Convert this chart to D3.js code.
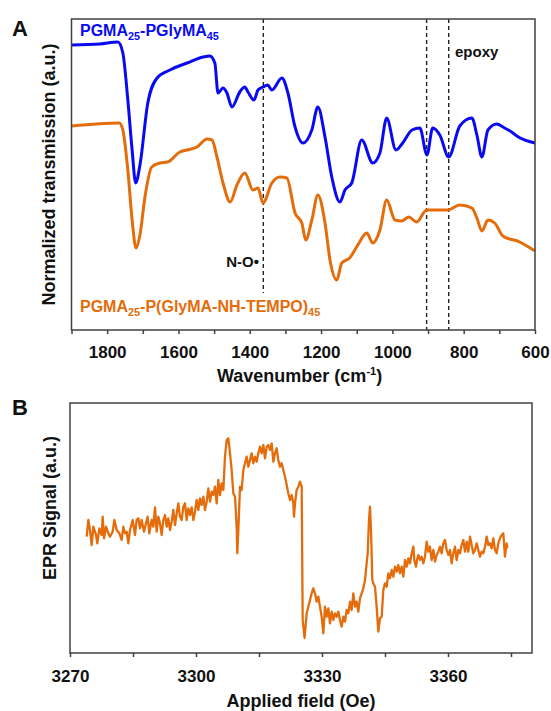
<!DOCTYPE html>
<html>
<head>
<meta charset="utf-8">
<script src="https://cdn.jsdelivr.net/npm/d3@7"></script>
<style>
  html, body { margin: 0; padding: 0; background: #fff; }
  svg { display: block; }
  text { font-family: "Liberation Sans", Arial, sans-serif; font-weight: bold; }
</style>
</head>
<body>
<script>
// ---------- Panel A: FTIR ----------
const irTicks = [1900,1800,1700,1600,1500,1400,1300,1200,1100,1000,900,800,700,600];
const irTickLabels = [1800,1600,1400,1200,1000,800,600];
const markerLines = [1362, 904, 842];

const blueWavenumber = [1900,1820,1770,1756,1742,1730,1720,1708,1686,1660,1624,1576,1531,1512,1498,1489,1475,1464,1450,1428,1414,1405,1388,1377,1363,1350,1338,1310,1293,1273,1251,1226,1209,1189,1170,1147,1133,1114,1086,1055,1035,1016,990,971,945,923,903,887,867,842,811,777,763,749,732,707,690,662,651,600];
const blueSignal     = [285,286,288,277,230,180,147,165,227,252,260,267,273,274,267,237,242,237,223,238,243,238,230,240,243,245,240,252,237,203,187,200,223,193,153,128,140,147,190,167,177,212,180,187,200,202,175,202,195,173,204,212,195,173,200,206,203,197,194,187];

const orangeWavenumber = [1900,1766,1756,1742,1730,1719,1708,1694,1675,1652,1630,1596,1576,1548,1520,1506,1492,1475,1455,1436,1414,1391,1377,1363,1338,1315,1296,1273,1254,1243,1226,1209,1189,1175,1156,1142,1120,1097,1072,1055,1035,1016,993,974,954,932,904,845,811,777,763,749,732,713,690,643,600];
const orangeSignal     = [204,207,200,160,110,82,95,133,163,167,168,178,180,183,191,190,173,147,128,145,157,140,142,127,147,153,152,117,107,90,110,135,107,70,50,67,72,85,97,87,100,130,110,109,113,108,120,120,125,122,112,99,110,107,94,88,79];

const seriesLabelBlue = [["PGMA",""],["25","sub"],["-PGlyMA",""],["45","sub"]];
const seriesLabelOrange = [["PGMA",""],["25","sub"],["-P(GlyMA-NH-TEMPO)",""],["45","sub"]];

// ---------- Panel B: EPR ----------
const eprTicks = [3270,3285,3300,3315,3330,3345,3360,3375];
const eprTickLabels = [3270,3300,3330,3360];
const eprField = [3273.97,3274.37,3274.76,3275.16,3275.56,3276.19,3276.51,3276.98,3277.54,3277.78,3278.10,3278.57,3279.13,3279.52,3280.16,3280.56,3281.11,3281.75,3282.30,3282.70,3283.10,3283.49,3283.89,3284.29,3284.92,3285.48,3285.87,3286.27,3286.67,3287.06,3287.62,3288.10,3288.49,3288.89,3289.44,3289.84,3290.24,3290.63,3291.03,3291.43,3291.83,3292.22,3292.62,3293.02,3293.41,3293.81,3294.21,3294.60,3295.00,3295.40,3295.79,3296.19,3296.59,3296.98,3297.38,3297.78,3298.17,3298.57,3298.97,3299.37,3299.76,3300.16,3300.56,3300.95,3301.35,3301.75,3302.14,3302.54,3302.94,3303.33,3303.73,3304.13,3304.52,3304.92,3305.32,3305.71,3306.11,3306.51,3306.90,3307.30,3307.70,3308.10,3308.49,3308.89,3309.29,3309.68,3309.84,3310.08,3310.48,3310.87,3311.27,3311.67,3312.06,3312.46,3312.86,3313.25,3313.65,3314.05,3314.44,3314.84,3315.24,3315.63,3316.03,3316.43,3316.83,3317.22,3317.62,3318.02,3318.41,3318.81,3319.21,3319.60,3320.00,3320.40,3320.79,3321.19,3321.59,3321.98,3322.38,3322.78,3323.17,3323.33,3323.57,3323.97,3324.37,3324.76,3325.16,3325.40,3325.85,3326.35,3326.74,3327.14,3327.54,3327.93,3328.33,3328.73,3329.13,3329.52,3329.92,3330.32,3330.71,3331.11,3331.51,3331.90,3332.30,3332.70,3333.09,3333.49,3333.89,3334.28,3334.68,3335.08,3335.47,3335.87,3336.27,3336.67,3337.06,3337.46,3337.86,3338.25,3338.65,3339.05,3339.44,3339.84,3340.24,3340.63,3340.87,3341.19,3341.43,3341.67,3341.98,3342.22,3342.62,3343.01,3343.41,3343.81,3344.21,3344.60,3345.00,3345.40,3345.79,3346.19,3346.59,3346.98,3347.38,3347.78,3348.17,3348.57,3348.97,3349.37,3349.76,3350.16,3350.56,3350.95,3351.35,3351.75,3351.98,3352.38,3352.70,3352.94,3353.33,3353.73,3354.13,3354.52,3354.92,3355.32,3355.71,3356.11,3356.51,3356.90,3357.30,3357.70,3358.10,3358.49,3358.89,3359.29,3359.68,3360.08,3360.48,3360.87,3361.27,3361.67,3362.06,3362.46,3362.86,3363.25,3363.65,3364.05,3364.44,3364.84,3365.24,3365.63,3366.03,3366.43,3366.83,3367.22,3367.62,3368.02,3368.41,3368.81,3369.21,3369.60,3370.00,3370.40,3370.79,3371.19,3371.59,3371.98,3372.38,3372.78,3373.17,3373.57,3373.97,3374.13];
const eprSignal = [116.3,133,123,108,126.3,118,109.7,124.7,118,136.3,114.7,126.3,119.7,116.3,121.3,133,123,119.7,113,126.3,119.7,121.3,109.7,123,133,118,133,134.7,124.7,133,121.3,129.7,136.3,119.7,133,126.3,145.7,121.3,136.3,129.7,118,133,138,126.3,134.7,123,131.3,143,128,139.7,149.7,136.3,133,146.3,149.7,133,144.7,138,145.7,133,141.3,153,143,154.7,148,156.3,143,151.3,164.7,151.3,161.3,158,166.3,149.7,173,158,169.7,163,196.3,213,214.7,199.7,183,159.7,156.3,126.3,99.7,123,166.3,163,183,189.7,196.3,186.3,193,199.7,189.7,196.3,191.3,199.7,206.3,199.7,208,194.7,206.3,208,203,209.7,191.3,199.7,204.7,193,186.3,189.7,183,176.3,168,159.7,153,158,149.7,136.3,149.7,163,166.3,171.3,166.3,33,15,39.7,46.3,53,59.7,64.7,59.7,51.3,56.3,46.3,36.3,19.7,46.3,36.3,44.7,29.7,41.3,33,39.7,36.3,41.3,33,26.3,36.3,31.3,43,39.7,51.3,43,59.7,46.3,51.3,41.3,54.7,59.7,64.7,73,89.7,99.7,133,146.3,123,73,69.7,66.3,46.3,21.3,34.7,36.3,63,69.7,66.3,79.7,74.7,83,76.3,86.3,81.3,88,79.7,86.3,76.3,93,86.3,94.7,89.7,99.7,106.3,93,86.3,94.7,98,93,96.3,89.7,96.3,111.3,101.3,106.3,93,103,91.3,98,101.3,106.3,99.7,109.7,113,103,98,103,89.7,99.7,106.3,93,103,99.7,108,113,101.3,111.3,101.3,116.3,108,99.7,103,109.7,103,96.3,101.3,99.7,106.3,116.3,108,109.7,104.7,114.7,103,99.7,109.7,114.7,118,119.7,96.3,109.7,104.7];

const BLUE = "#0a0af2", ORANGE = "#e46c0a", FRAME = "#404040";

const svg = d3.select("body").append("svg").attr("width", 551).attr("height", 711);

function richText(g, x, y, parts, size, color) {
  const t = g.append("text").attr("x", x).attr("y", y).attr("fill", color).attr("font-size", size);
  let prev = null;
  parts.forEach(([s, kind]) => {
    const ts = t.append("tspan").text(s);
    if (kind === "sub") ts.attr("font-size", size * 0.68).attr("dy", 4);
    else if (kind === "sup") ts.attr("font-size", size * 0.62).attr("dy", -7);
    else if (prev) ts.attr("dy", prev === "sub" ? -4 : 7);
    prev = kind || null;
  });
  return t;
}

// ---------- Panel A ----------
const A = { l: 71.5, r: 535, t: 19, b: 330 };
const xA = d3.scaleLinear().domain([1900, 600]).range([A.l, A.r]);
const yA = d3.scaleLinear().domain([0, 311]).range([A.b, A.t]);
const gA = svg.append("g");

markerLines.forEach((w, i) => {
  gA.append("line")
    .attr("x1", xA(w)).attr("x2", xA(w))
    .attr("y1", yA(311)).attr("y2", i === 0 ? yA(37) : yA(0))
    .attr("stroke", "#222").attr("stroke-width", 1.4).attr("stroke-dasharray", "4,3");
});

const lineA = (xs, ys) => d3.line().x((d, i) => xA(xs[i])).y((d, i) => yA(ys[i])).curve(d3.curveMonotoneX)(xs);
gA.append("path").attr("d", lineA(orangeWavenumber, orangeSignal))
  .attr("fill", "none").attr("stroke", ORANGE).attr("stroke-width", 3).attr("stroke-linejoin", "round");
gA.append("path").attr("d", lineA(blueWavenumber, blueSignal))
  .attr("fill", "none").attr("stroke", BLUE).attr("stroke-width", 3).attr("stroke-linejoin", "round");

gA.append("rect").attr("x", A.l).attr("y", A.t).attr("width", A.r - A.l).attr("height", A.b - A.t)
  .attr("fill", "none").attr("stroke", FRAME).attr("stroke-width", 1.5);

const axA = gA.append("g").attr("transform", `translate(0,${A.b})`)
  .call(d3.axisBottom(xA).tickValues(irTicks).tickSize(4).tickPadding(12)
    .tickFormat(d => irTickLabels.includes(d) ? d : ""));
axA.select(".domain").remove();
axA.selectAll(".tick line").attr("stroke", FRAME).attr("stroke-width", 1.5);
axA.selectAll(".tick text").attr("font-size", 17).attr("fill", "#111")
  .attr("font-family", "Liberation Sans, Arial, sans-serif").attr("font-weight", "bold");

richText(gA, 80, 36, seriesLabelBlue, 16, BLUE);
richText(gA, 80, 312, seriesLabelOrange, 16, ORANGE);

gA.append("text").attr("x", 455).attr("y", 57).attr("font-size", 15).attr("fill", "#111").text("epoxy");
gA.append("text").attr("x", 259).attr("y", 267).attr("font-size", 15).attr("fill", "#111")
  .attr("text-anchor", "end").text("N-O\u2022");

gA.append("text").attr("transform", `translate(55,${(A.t + A.b) / 2}) rotate(-90)`)
  .attr("text-anchor", "middle").attr("font-size", 18).attr("fill", "#111")
  .text("Normalized transmission (a.u.)");
richText(gA, 217, 382, [["Wavenumber (cm",""],["-1","sup"],[")",""]], 18, "#111");

svg.append("text").attr("x", 12).attr("y", 36).attr("font-size", 22).attr("fill", "#111").text("A");

// ---------- Panel B ----------
const B = { l: 70, r: 532, t: 403, b: 653 };
const xB = d3.scaleLinear().domain([3270, 3380]).range([B.l, B.r]);
const yB = d3.scaleLinear().domain([0, 250]).range([B.b, B.t]);
const gB = svg.append("g");

gB.append("path")
  .attr("d", d3.line().x((d, i) => xB(eprField[i])).y((d, i) => yB(eprSignal[i]))(eprField))
  .attr("fill", "none").attr("stroke", ORANGE).attr("stroke-width", 2.3).attr("stroke-linejoin", "round");

gB.append("rect").attr("x", B.l).attr("y", B.t).attr("width", B.r - B.l).attr("height", B.b - B.t)
  .attr("fill", "none").attr("stroke", FRAME).attr("stroke-width", 1.5);

const axB = gB.append("g").attr("transform", `translate(0,${B.b})`)
  .call(d3.axisBottom(xB).tickValues(eprTicks).tickSize(4).tickPadding(13)
    .tickFormat(d => eprTickLabels.includes(d) ? d : ""));
axB.select(".domain").remove();
axB.selectAll(".tick line").attr("stroke", FRAME).attr("stroke-width", 1.5);
axB.selectAll(".tick text").attr("font-size", 17).attr("fill", "#111")
  .attr("font-family", "Liberation Sans, Arial, sans-serif").attr("font-weight", "bold");

gB.append("text").attr("transform", `translate(56,508) rotate(-90)`)
  .attr("text-anchor", "middle").attr("font-size", 18).attr("fill", "#111")
  .text("EPR Signal (a.u.)");
gB.append("text").attr("x", 301).attr("y", 707).attr("text-anchor", "middle")
  .attr("font-size", 18).attr("fill", "#111").text("Applied field (Oe)");

svg.append("text").attr("x", 12).attr("y", 415).attr("font-size", 22).attr("fill", "#111").text("B");
</script>
</body>
</html>
